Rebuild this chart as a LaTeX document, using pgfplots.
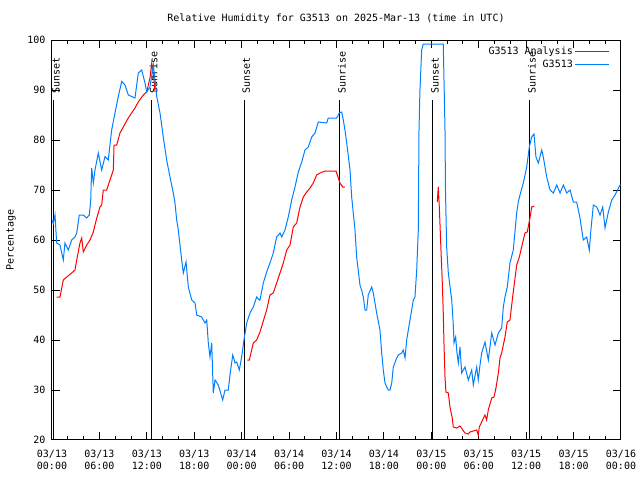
\documentclass[border=0pt]{standalone}
\usepackage{fontspec}
\setmainfont{DejaVu Sans Mono}
\usepackage{pgfplots}
\pgfplotsset{compat=1.18}
\definecolor{gblue}{RGB}{0,128,255}
\definecolor{gred}{RGB}{255,0,0}
\begin{document}
\begin{tikzpicture}[font=\fontsize{10bp}{12bp}\selectfont]
\useasboundingbox (0,0) rectangle (640bp,480bp);
\node at (336bp,461bp) {Relative Humidity for G3513 on 2025-Mar-13 (time in UTC)};
\node[rotate=90] at (11bp,240bp) {Percentage};
\begin{axis}[at={(52bp,40bp)}, anchor=south west, scale only axis,
  width=569bp, height=400bp,
  xmin=0, xmax=72, ymin=20, ymax=100,
  xtick={0,6,...,72}, minor xtick={0,2,...,72}, ytick={20,30,...,100},
  xticklabels={{03/13\\00:00},{03/13\\06:00},{03/13\\12:00},{03/13\\18:00},{03/14\\00:00},{03/14\\06:00},{03/14\\12:00},{03/14\\18:00},{03/15\\00:00},{03/15\\06:00},{03/15\\12:00},{03/15\\18:00},{03/16\\00:00}},
  xticklabel style={align=center, font=\fontsize{10bp}{12bp}\selectfont, yshift=-7bp},
  yticklabel style={font=\fontsize{10bp}{12bp}\selectfont, xshift=-3bp},
  /pgf/number format/assume math mode=true,
  tick align=inside, xtick pos=both, ytick pos=both,
  major tick length=8bp, minor tick length=4bp,
  axis line style={line width=1bp},
  every tick/.style={black, line width=1bp},
  legend style={draw=none, fill=none, at={(rel axis cs:1,1)}, anchor=north east, xshift=-8bp, yshift=-3bp,
    font=\fontsize{10bp}{12bp}\selectfont, row sep=0bp},
  legend cell align=right, legend plot pos=right,
  legend image code/.code={\path (0bp,0bp) -- (34bp,0bp); \draw[#1] (6bp,0bp) -- (34bp,0bp);},
]
% Sunset/Sunrise markers
\addplot[black, line width=1bp, forget plot] coordinates {(0.25,20) (0.25,88)};
\addplot[black, line width=1bp, forget plot] coordinates {(12.6,20) (12.6,88)};
\addplot[black, line width=1bp, forget plot] coordinates {(24.33,20) (24.33,88)};
\addplot[black, line width=1bp, forget plot] coordinates {(36.44,20) (36.44,88)};
\addplot[black, line width=1bp, forget plot] coordinates {(48.21,20) (48.21,88)};
\addplot[black, line width=1bp, forget plot] coordinates {(60.48,20) (60.48,88)};
\node[rotate=90, anchor=west, inner sep=0pt] at (axis cs:0.5,89.3) {Sunset};
\node[rotate=90, anchor=west, inner sep=0pt] at (axis cs:12.85,89.3) {Sunrise};
\node[rotate=90, anchor=west, inner sep=0pt] at (axis cs:24.58,89.3) {Sunset};
\node[rotate=90, anchor=west, inner sep=0pt] at (axis cs:36.69,89.3) {Sunrise};
\node[rotate=90, anchor=west, inner sep=0pt] at (axis cs:48.46,89.3) {Sunset};
\node[rotate=90, anchor=west, inner sep=0pt] at (axis cs:60.73,89.3) {Sunrise};
% Analysis
\addplot[gred, line width=1bp] coordinates {
(0.59,48.6)(1.01,48.6)(1.43,52)(1.86,52.6)(2.49,53.4)(2.91,54)(3.13,56)(3.54,59.4)(3.76,60.4)(3.96,57.6)
(4.39,59)(4.81,60)(5.23,61.6)(5.66,64.4)(5.86,65.4)(6.07,66.6)(6.29,67)(6.49,70)(6.92,70)(7.34,72)
(7.76,74)(7.85,79)(8.19,79)(8.60,81.4)(9.02,82.6)(9.65,84.4)(10.50,86.4)(10.92,87.6)(11.55,89)(11.98,89.6)
(12.40,92.4)(12.62,95.4)(12.91,92)(13.03,89.6)
};
\addlegendentry{G3513 Analysis}
\addplot[gred, line width=1bp, forget plot] coordinates {
(24.71,36)(24.97,36)(25.47,39.4)(25.90,40)(26.32,41.6)(27.16,46)(27.58,49)(28.00,49.4)(28.43,51.4)(28.85,53.4)
(29.27,55.4)(29.70,58)(30.12,59)(30.53,62.6)(30.96,63.4)(31.38,66.6)(31.80,68.6)(32.23,69.6)(32.65,70.4)(33.06,71.4)
(33.49,73)(33.91,73.4)(34.54,73.8)(35.94,73.8)(36.23,72.4)(36.44,71.4)(36.78,70.6)(37.07,70.6)
};
\addplot[gred, line width=1bp, forget plot] coordinates {
(48.75,67.6)(48.88,70.6)(49.01,66.6)(49.09,63.4)(49.22,58)(49.39,51.4)(49.51,45.4)(49.60,39.4)(49.73,32.6)(49.85,29.6)
(50.15,29.4)(50.36,26.6)(50.65,24.4)(50.78,22.6)(51.21,22.4)(51.63,22.8)(51.97,22)(52.26,21.4)(52.68,21.2)(52.89,21.6)
(53.31,21.8)(53.74,22)(53.94,21)(54.07,22.6)(54.37,23.6)(54.79,25)(55.00,24)(55.21,26)(55.64,28.4)(55.93,28.6)
(56.18,30.4)(56.48,33.4)(56.69,36.4)(56.90,37.4)(57.32,40.6)(57.61,43.6)(57.95,44)(58.29,48.6)(58.80,55)(59.14,56.6)
(59.43,58.6)(59.85,61.4)(60.14,61.6)(60.48,64.4)(60.70,66.6)(61.02,66.8)
};
% Observations
\addplot[gblue, line width=1bp] coordinates {
(0.00,64)(0.16,63.3)(0.38,65)(0.59,59.4)(1.01,59)(1.43,56)(1.64,59.4)(2.06,58)(2.49,60)(2.91,60.6)(3.13,61.4)
(3.45,65)(3.96,65)(4.39,64.4)(4.72,65)(4.90,68)(5.02,74.4)(5.23,71.4)(5.44,74)(5.86,77.4)(6.29,74)
(6.71,76.7)(7.12,76)(7.55,82)(7.97,85.4)(8.39,88.7)(8.82,91.7)(9.24,91)(9.66,89)(10.50,88.4)(10.92,93.4)
(11.35,94)(11.77,91.4)(11.98,89.6)(12.40,90.6)(12.82,95)(13.03,92)(13.25,88.7)(13.67,85.4)(14.08,80.6)(14.51,76)
(14.93,72.6)(15.35,69.4)(15.56,67.4)(15.78,64)(15.98,62)(16.41,56)(16.62,53.4)(16.96,55.6)(17.25,50.6)(17.68,48)
(18.10,47.4)(18.31,45)(18.94,44.6)(19.36,43.4)(19.58,44)(19.78,39.4)(19.99,36.6)(20.21,39.4)(20.41,29.4)(20.63,32)
(21.04,31)(21.60,28)(21.89,30)(22.31,30)(22.52,33)(22.87,37)(23.16,35.4)(23.37,35.6)(23.70,34)(24.00,36.6)
(24.29,40)(24.64,43.4)(25.05,45.4)(25.47,46.6)(25.90,48.6)(26.23,48)(26.32,48)(26.74,51.4)(27.16,53.6)(27.58,55.4)
(28.00,57.4)(28.43,60.6)(28.85,61.4)(29.07,60.6)(29.48,62)(29.90,64.6)(30.33,68)(30.75,70.6)(31.17,73.6)(31.60,75.6)
(32.01,78)(32.43,78.6)(32.86,80.6)(33.28,81.4)(33.70,83.6)(34.76,83.4)(34.96,84.4)(36.02,84.4)(36.35,85.4)(36.66,85.6)
(36.86,84)(37.07,82)(37.29,79.4)(37.71,74)(37.92,68.6)(38.34,62)(38.55,56.6)(38.97,51)(39.18,50)(39.39,48.6)
(39.61,46)(39.82,46)(40.02,49)(40.45,50.6)(40.66,49.4)(41.08,45.4)(41.50,42)(41.72,37.4)(41.92,34)(42.14,31.4)
(42.35,30.6)(42.56,30)(42.77,30)(42.99,31.4)(43.19,34.6)(43.62,36.4)(43.82,37)(44.25,37.4)(44.45,38)(44.67,36.4)
(44.88,40)(45.30,44)(45.72,48)(45.93,48.6)(46.15,54)(46.35,62)(46.44,82)(46.56,90)(46.78,98)(46.98,99.2)
(49.51,99.2)(49.73,82)(49.79,70)(49.94,58.6)(50.15,53.4)(50.58,48)(50.78,43)(50.87,39.4)(51.08,40.6)(51.21,38)
(51.41,35.4)(51.63,38.6)(51.84,33.4)(52.26,34.6)(52.68,32)(53.11,34)(53.31,31)(53.74,34.6)(53.94,32)(54.16,35)
(54.37,37.4)(54.79,39.6)(55.21,36)(55.64,41.4)(56.06,39)(56.48,41.4)(56.90,42.4)(57.11,46.6)(57.32,48.6)(57.61,50.6)
(57.95,55.4)(58.37,58)(58.80,65.4)(59.00,67.6)(59.22,69)(59.64,71.4)(60.07,74.6)(60.40,78.6)(60.70,80.6)(60.99,81.2)
(61.24,76.6)(61.54,75.4)(61.97,78)(62.17,76.6)(62.60,72.6)(63.02,70)(63.44,69.4)(63.87,71)(64.29,69.4)(64.71,71)
(65.13,69.4)(65.55,70)(65.97,67.6)(66.39,67.6)(66.81,64.4)(67.23,60)(67.66,60.6)(67.99,58)(68.17,61.6)(68.50,67)
(68.93,66.6)(69.35,65)(69.69,66.6)(69.98,62.4)(70.40,65.6)(70.83,68)(71.24,69)(71.87,71)(72,71)
};
\addlegendentry{G3513}
\end{axis}
\end{tikzpicture}
\end{document}
